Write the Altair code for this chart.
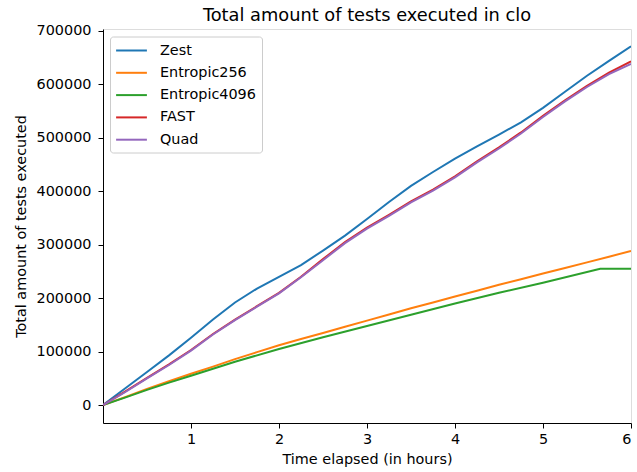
import altair as alt
import pandas as pd

hours = [0, 0.25, 0.5, 0.75, 1.0, 1.25, 1.5, 1.75, 2.0, 2.25, 2.5, 2.75, 3.0,
         3.25, 3.5, 3.75, 4.0, 4.25, 4.5, 4.75, 5.0, 5.25, 5.5, 5.75, 6.0]

zest = [0, 31000, 62000, 93000, 126000, 160000, 192000, 218000, 240000, 262000,
        289000, 317000, 348000, 380000, 410000, 436000, 461000, 484000, 506000,
        529000, 556000, 586000, 616000, 644000, 671000]
entropic256 = [0, 15000, 30000, 44500, 58500, 72000, 86000, 99000, 112000, 123500,
               135000, 146500, 158000, 169500, 181000, 192000, 203000, 214000,
               225000, 235500, 246000, 256500, 267000, 277500, 288500]
hours_4096 = [0, 0.25, 0.5, 0.75, 1.0, 1.5, 2.0, 2.5, 3.0, 3.5, 4.0, 4.5, 5.0, 5.65, 6.0]
entropic4096 = [0, 14000, 28500, 42000, 55000, 81000, 105000, 127000, 148000,
                169000, 190000, 210000, 229000, 255000, 255000]
fast = [0, 25000, 51000, 76000, 103000, 133000, 160000, 185000, 210000, 240000,
        273000, 305000, 332000, 356000, 381000, 403000, 428000, 456000, 482000,
        510000, 541000, 570000, 597000, 622000, 643000]
quad = [0, 24000, 50000, 75000, 102000, 132000, 159000, 184000, 209000, 239000,
        271000, 303000, 330000, 354000, 379000, 401000, 426000, 454000, 480000,
        508000, 539000, 568000, 595000, 619000, 638000]

series_names = ["Zest", "Entropic256", "Entropic4096", "FAST", "Quad"]
series_colors = ["#1f77b4", "#ff7f0e", "#2ca02c", "#d62728", "#9467bd"]
series_hours = [hours, hours, hours_4096, hours, hours]
series_values = [zest, entropic256, entropic4096, fast, quad]

rows = []
for name, hrs, vals in zip(series_names, series_hours, series_values):
    for h, v in zip(hrs, vals):
        rows.append({"hours": h, "tests": v, "series": name})
df = pd.DataFrame(rows)

FONT = "DejaVu Sans"
FS = 14.4

color = alt.Color(
    "series:N",
    scale=alt.Scale(domain=series_names, range=series_colors),
    legend=alt.Legend(
        title=None,
        orient="none",
        legendX=7,
        legendY=7.5,
        symbolType="M-2.2,0H2.2",
        symbolStrokeWidth=2,
        symbolSize=196,
        symbolOffset=7.5,
        labelFont=FONT,
        labelFontSize=FS,
        labelColor="#000000",
        fillColor="white",
        strokeColor="#cccccc",
        cornerRadius=3,
        padding=6,
        rowPadding=7.3,
        labelOffset=20.5,
    ),
)

x = alt.X(
    "hours:Q",
    scale=alt.Scale(domain=[0, 6], nice=False, zero=False),
    axis=alt.Axis(
        title="Time elapsed (in hours)",
        values=[1, 2, 3, 4, 5, 6],
        format="d",
        grid=False,
        tickSize=5,
        tickColor="black",
        domainColor="black",
        labelFont=FONT,
        labelFontSize=FS,
        labelColor="black",
        labelPadding=4,
        titleFont=FONT,
        titleFontSize=FS,
        titleFontWeight="normal",
        titleColor="black",
        titlePadding=7,
    ),
)
y = alt.Y(
    "tests:Q",
    scale=alt.Scale(domain=[-33500, 703500], nice=False, zero=False),
    axis=alt.Axis(
        title="Total amount of tests executed",
        values=[0, 100000, 200000, 300000, 400000, 500000, 600000, 700000],
        format="d",
        grid=False,
        tickSize=5,
        tickColor="black",
        domainColor="black",
        labelFont=FONT,
        labelFontSize=FS,
        labelColor="black",
        labelPadding=7,
        titleFont=FONT,
        titleFontSize=FS,
        titleFontWeight="normal",
        titleColor="black",
        titlePadding=8,
    ),
)

layers = []
for name in series_names:
    layers.append(
        alt.Chart(df)
        .transform_filter(alt.datum.series == name)
        .mark_line(strokeWidth=2, clip=True)
        .encode(x=x, y=y, color=color, order="hours:Q")
    )

chart = (
    alt.layer(*layers)
    .properties(
        width=528,
        height=394,
        title=alt.TitleParams(
            "Total amount of tests executed in clo",
            font=FONT,
            fontSize=17.8,
            fontWeight="normal",
            color="black",
            frame="group",
            offset=-2,
        ),
        autosize=alt.AutoSizeParams(type="none"),
        padding={"left": 103, "top": 29, "right": 6, "bottom": 49},
    )
    .configure_view(stroke="black", strokeWidth=1)
    .configure(background="white")
)

chart.save("out.html", embed_options={"renderer": "svg", "actions": False})
